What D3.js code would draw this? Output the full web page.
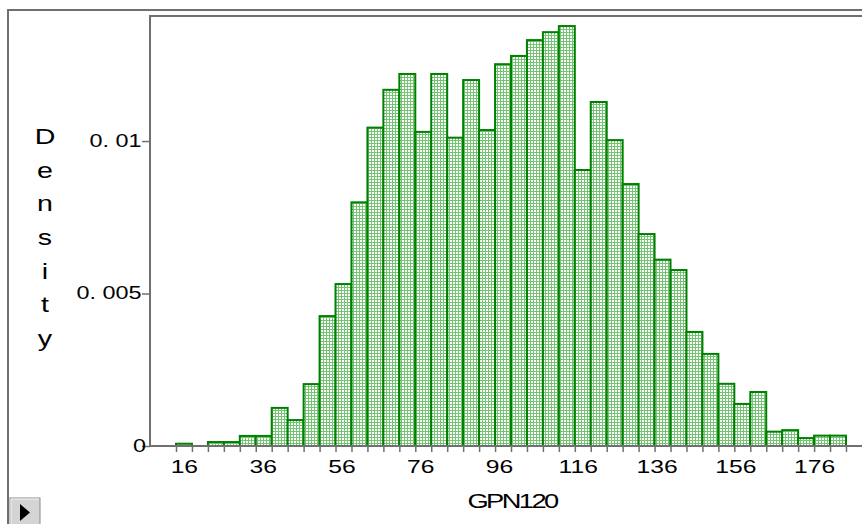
<!DOCTYPE html>
<html>
<head>
<script src="https://d3js.org/d3.v7.min.js"></script>
<style>
  body { margin: 0; background: #fff; }
  text { font-family: "Liberation Sans", Arial, sans-serif; fill: #000; }
</style>
</head>
<body>
<script>
// histogram of GPN120, 42 bins
var binStart = 14, binWidth = 4.05;
var density = [0.000075, 0, 0.00013, 0.00013, 0.00033, 0.00033, 0.00125, 0.00085, 0.00203, 0.00426,
               0.00531, 0.00799, 0.01044, 0.01168, 0.0122, 0.0103, 0.0122, 0.01011, 0.0120, 0.01036,
               0.01252, 0.01279, 0.01331, 0.01357, 0.01377, 0.00905, 0.01128, 0.01003, 0.00859, 0.00695,
               0.00611, 0.00577, 0.00374, 0.00302, 0.00204, 0.00138, 0.00177, 0.00047, 0.00052, 0.00026,
               0.00034, 0.00034];
var xTickLabels = [16, 36, 56, 76, 96, 116, 136, 156, 176];
var yTickValues = [0, 0.005, 0.01];
var yTickText = ["0", "0. 005", "0. 01"];
var xTitle = "GPN120", yTitle = "Density";

var width = 862, height = 524;
var plotLeft = 150, plotTop = 16, plotBase = 446;
var stretch = 1.3;

var svg = d3.select("body").append("svg")
  .attr("width", width)
  .attr("height", height);

var bins = density.map(function (d, i) {
  return { x0: binStart + i * binWidth, x1: binStart + (i + 1) * binWidth, v: d };
});
var edges = d3.range(density.length + 1).map(function (i) { return binStart + i * binWidth; });

var x = d3.scaleLinear().domain([binStart, edges[edges.length - 1]]).range([176, 846]);
var y = d3.scaleLinear().domain([0, 0.0141]).range([plotBase, plotTop]);

// fill pattern
var pat = svg.append("defs").append("pattern")
  .attr("id", "dots").attr("patternUnits", "userSpaceOnUse")
  .attr("width", 3).attr("height", 3);
pat.append("rect").attr("width", 3).attr("height", 3).attr("fill", "#74c474");
pat.append("rect").attr("width", 2).attr("height", 2).attr("fill", "#fff");

// outer frame
svg.append("path").attr("d", "M8,524V10H862")
  .attr("fill", "none").attr("stroke", "#707070").attr("stroke-width", 2);

// bars
svg.append("g").selectAll("rect")
  .data(bins.filter(function (b) { return b.v > 0; }))
  .enter().append("rect")
  .attr("x", function (d) { return x(d.x0); })
  .attr("y", function (d) { return y(d.v); })
  .attr("width", function (d) { return x(d.x1) - x(d.x0); })
  .attr("height", function (d) { return plotBase - y(d.v); })
  .attr("fill", "url(#dots)")
  .attr("stroke", "#008000")
  .attr("stroke-width", 2);

// plot frame
svg.append("path").attr("d", "M862," + plotTop + "H" + plotLeft + "V" + plotBase + "H862")
  .attr("fill", "none").attr("stroke", "#707070").attr("stroke-width", 2);

// x ticks at bin edges
var xTicks = svg.append("g").attr("transform", "translate(0," + plotBase + ")")
  .call(d3.axisBottom(x).tickValues(edges).tickSize(6).tickFormat(""));
xTicks.select(".domain").remove();
xTicks.selectAll("line").attr("stroke", "#707070").attr("stroke-width", 1.5);

// x labels
var xLab = svg.append("g").attr("transform", "translate(0," + plotBase + ")")
  .call(d3.axisBottom(x).tickValues(xTickLabels).tickSize(0).tickPadding(0));
xLab.select(".domain").remove();
xLab.selectAll("text")
  .attr("y", 0).attr("dy", 0)
  .attr("transform", "translate(0,26.5) scale(" + stretch + ",1)")
  .style("font-size", "19px");

// y axis
var yAx = svg.append("g").attr("transform", "translate(" + plotLeft + ",0)")
  .call(d3.axisLeft(y).tickValues(yTickValues).tickSize(8)
    .tickFormat(function (d, i) { return yTickText[i]; }));
yAx.select(".domain").remove();
yAx.selectAll("line").attr("stroke", "#707070").attr("stroke-width", 1.5);
yAx.selectAll("text")
  .attr("x", 0).attr("dy", "0.3em")
  .attr("transform", function (d) { return "translate(" + (d === 0 ? -4 : -8.5) + ",0) scale(" + stretch + ",1)"; })
  .style("font-size", "18px");

// y title, stacked letters
var yt = svg.append("text")
  .attr("transform", "translate(45,144) scale(" + stretch + ",1)")
  .attr("text-anchor", "middle")
  .style("font-size", "22px");
yt.selectAll("tspan").data(yTitle.split("")).enter().append("tspan")
  .attr("x", 0)
  .attr("dy", function (d, i) { return i === 0 ? 0 : 33.7; })
  .text(function (d) { return d; });

// x title
svg.append("text")
  .attr("transform", "translate(512,508) scale(" + stretch + ",1)")
  .attr("text-anchor", "middle")
  .attr("letter-spacing", "-2")
  .style("font-size", "21px")
  .text(xTitle);

// small button bottom left
var btn = svg.append("g");
btn.append("rect").attr("x", 10).attr("y", 498).attr("width", 30).attr("height", 30)
  .attr("fill", "#d4d4d4").attr("stroke", "#8a8a8a");
btn.append("path").attr("d", "M11,527V499H39").attr("fill", "none").attr("stroke", "#f4f4f4");
btn.append("path").attr("d", "M20,504L30,512.5L20,521Z").attr("fill", "#000");
</script>
</body>
</html>
